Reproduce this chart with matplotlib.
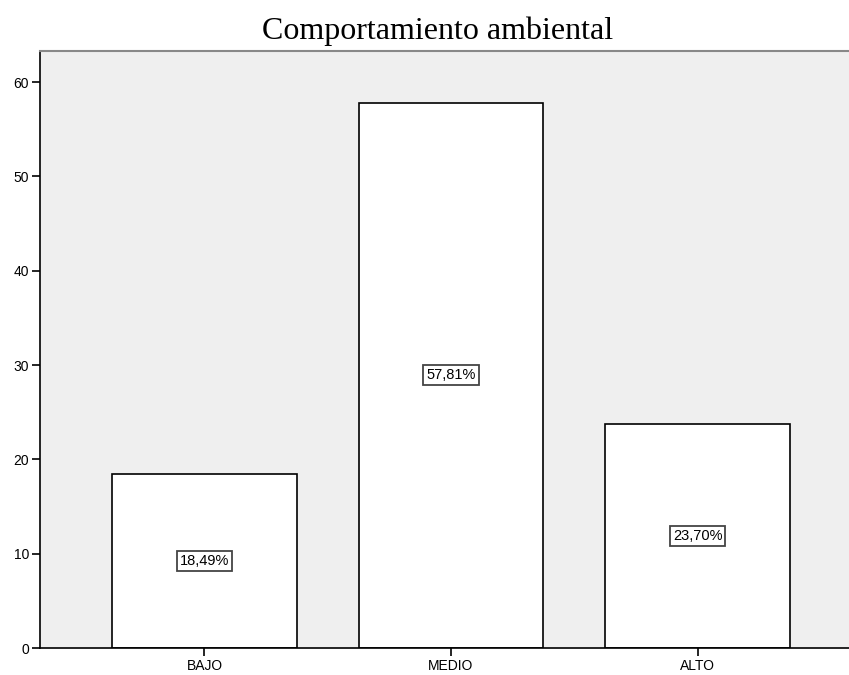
import matplotlib
matplotlib.use("Agg")
import matplotlib.pyplot as plt

categories = ['BAJO', 'MEDIO', 'ALTO']
values = [18.49, 57.81, 23.70]
labels = ['18,49%', '57,81%', '23,70%']
yticks = [0, 10, 20, 30, 40, 50, 60]

fig = plt.figure(figsize=(8.49, 6.75), dpi=100)
ax = fig.add_axes([40/849, 27/675, 822/849, 597/675])
ax.set_facecolor('#efefef')

pos = range(len(categories))
ax.bar(pos, values, width=0.75, color='white', edgecolor='black', linewidth=1.2)
for p, v, t in zip(pos, values, labels):
    ax.text(p, v/2, t, ha='center', va='center', fontsize=10.5, family='Liberation Sans',
            bbox=dict(boxstyle='square,pad=0.2', facecolor='white', edgecolor='#444444', linewidth=1.3))

ax.set_xlim(-0.667, 2.667)
ax.set_ylim(0, 63.3)
ax.set_xticks(list(pos))
ax.set_xticklabels(categories, family='Liberation Sans', fontsize=10)
ax.set_yticks(yticks)
ax.set_yticklabels([str(y) for y in yticks], family='Liberation Sans', fontsize=10)
ax.tick_params(axis='both', direction='out', length=6, width=1.2, colors='black', pad=2)

ax.spines['left'].set_color('black')
ax.spines['bottom'].set_color('black')
ax.spines['left'].set_linewidth(1.2)
ax.spines['bottom'].set_linewidth(1.2)
ax.spines['top'].set_color('#888888')
ax.spines['top'].set_linewidth(1.5)
ax.spines['right'].set_visible(False)

fig.text(438/849, 1 - 39/675, 'Comportamiento ambiental', ha='center', va='baseline',
         family='Liberation Serif', fontsize=23)

fig.savefig('out.png', dpi=100)
